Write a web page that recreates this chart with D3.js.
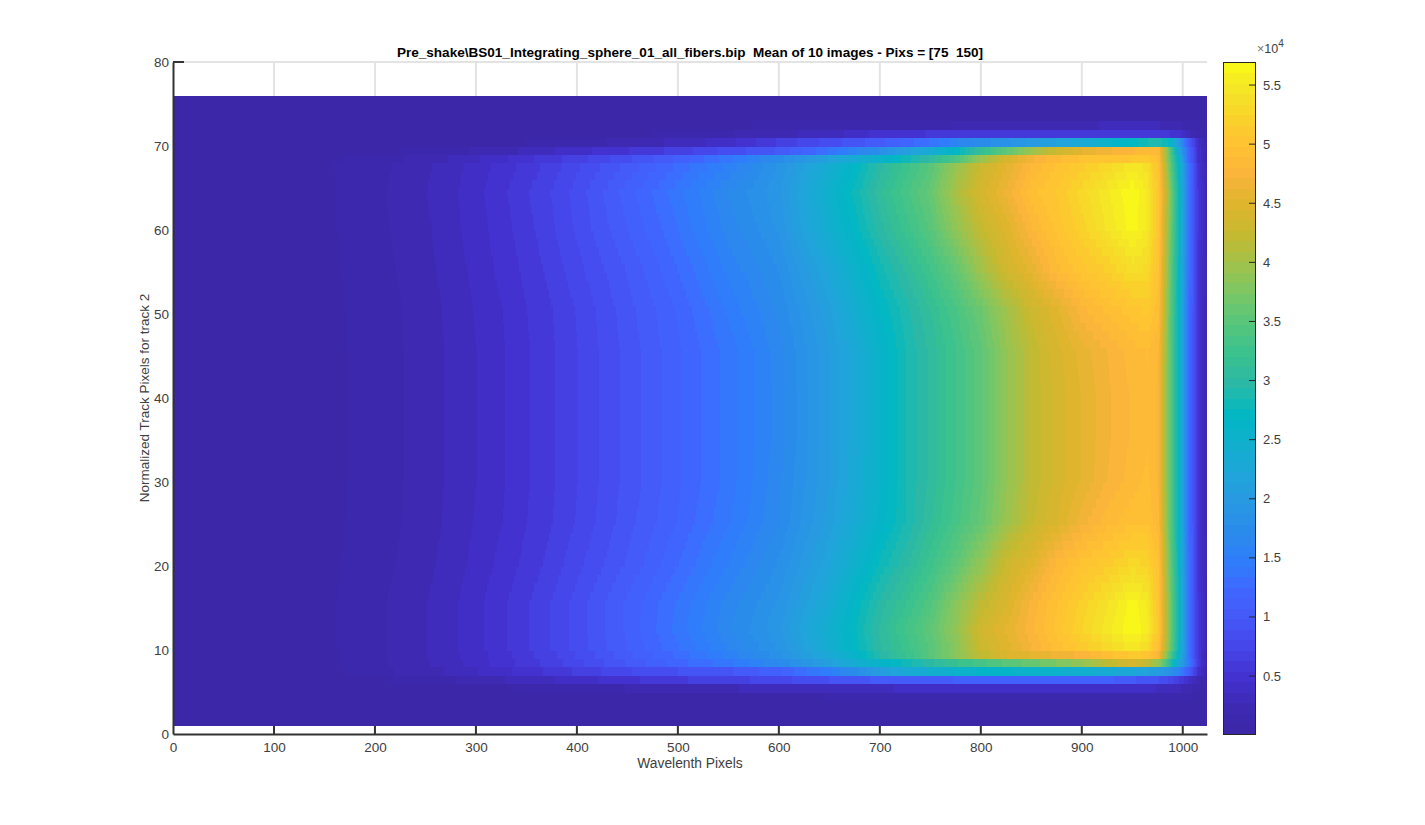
<!DOCTYPE html>
<html><head><meta charset="utf-8">
<script src="https://cdn.jsdelivr.net/npm/d3@7"></script>
<style>html,body{margin:0;padding:0;background:#fff}svg{display:block}text{font-family:"Liberation Sans",Arial,sans-serif}</style>
</head><body><svg id="c" width="1425" height="825"></svg>
<script>
const titleText = "Pre_shake\\BS01_Integrating_sphere_01_all_fibers.bip  Mean of 10 images - Pixs = [75  150]";
const xLabelText = "Wavelenth Pixels";
const yLabelText = "Normalized Track Pixels for track 2";
const xTicks = [0,100,200,300,400,500,600,700,800,900,1000];
const yTicks = [0,10,20,30,40,50,60,70,80];
const cbTicks = [0.5,1,1.5,2,2.5,3,3.5,4,4.5,5,5.5];
const cbLabels = ["0.5","1","1.5","2","2.5","3","3.5","4","4.5","5","5.5"];
const valueDomain = [0.01,5.695];
const paletteValues = [0.01,0.25,0.5,0.75,1,1.25,1.45,1.75,2,2.25,2.5,2.7,3,3.25,3.5,3.75,4,4.25,4.5,4.75,5,5.25,5.5,5.695];
const paletteColors = ["#3a26a4","#3e29b4","#4331d0","#4546ea","#4558f8","#3f68ff","#2f7cfb","#2a8cea","#279ae2","#1ea7d8","#0fb0cc","#00b8c4","#2db9a4","#3cc28c","#58c67c","#7cc764","#a2c24a","#c7b92f","#dfb52e","#fbb43a","#ffc232","#f9d42a","#f4e826","#f9fb15"];
const wavelengths = [0,160,175,225,265,295,325,350,375,400,450,500,550,600,650,675,700,725,750,775,800,825,850,875,900,925,950,965,975,985,995,1005,1015,1023];
const tracks = [1,3,4,5,6,7,8,9,10,12,15,20,25,30,35,40,45,50,55,60,64,67,68,69,70,71,72,73,75];
const trackValues = [
[.05,.05,.05,.05,.05,.05,.05,.05,.05,.05,.05,.05,.05,.05,.05,.05,.05,.05,.05,.05,.05,.05,.05,.05,.05,.05,.05,.05,.05,.05,.05,.05,.05,.05],
[.05,.05,.05,.05,.05,.05,.05,.05,.05,.05,.05,.05,.05,.05,.05,.06,.06,.06,.07,.07,.07,.07,.07,.07,.07,.07,.07,.07,.07,.07,.07,.06,.05,.05],
[.05,.05,.05,.05,.05,.05,.05,.05,.06,.06,.07,.08,.08,.09,.1,.11,.11,.12,.14,.15,.16,.16,.17,.17,.17,.17,.16,.15,.15,.14,.13,.11,.08,.06],
[.05,.05,.05,.05,.06,.07,.09,.11,.13,.15,.19,.23,.27,.3,.33,.35,.36,.37,.38,.39,.4,.4,.41,.42,.42,.41,.4,.38,.36,.34,.3,.22,.12,.06],
[.05,.06,.06,.11,.17,.21,.27,.32,.36,.41,.52,.62,.68,.78,.9,.97,1,1.02,1.05,1.08,1.1,1.12,1.15,1.15,1.15,1.1,1,.95,.9,.8,.65,.45,.22,.08],
[.06,.08,.11,.2,.27,.35,.42,.5,.57,.65,.8,.9,.97,1.15,1.5,1.75,2.05,2.3,2.42,2.52,2.6,2.6,2.55,2.5,2.45,2.35,2.25,2.15,2.05,1.9,1.6,1.1,.45,.12],
[.06,.09,.12,.21,.3,.39,.5,.58,.68,.78,1,1.22,1.4,1.7,2.1,2.4,2.6,2.8,3,3.2,3.35,3.5,3.6,3.75,3.9,4.2,4.4,4.2,3.9,3.2,2.3,1.5,.6,.18],
[.06,.09,.125,.21,.31,.4,.5,.6,.7,.82,1.05,1.28,1.55,1.85,2.3,2.6,2.95,3.2,3.5,3.85,4.2,4.45,4.55,4.65,4.75,4.95,5.1,5.05,4.75,3.6,2.6,1.4,.55,.18],
[.05,.095,.13,.21,.31,.41,.52,.62,.73,.85,1.08,1.34,1.62,1.9,2.4,2.72,3.02,3.25,3.5,3.85,4.3,4.5,4.72,4.95,5.12,5.3,5.5,5.35,4.95,3.85,2.75,1.4,.55,.2],
[.05,.095,.13,.21,.31,.41,.52,.62,.73,.85,1.1,1.38,1.68,1.95,2.45,2.75,3.05,3.3,3.55,3.9,4.35,4.55,4.78,5.02,5.25,5.48,5.69,5.55,5.1,3.9,2.8,1.4,.55,.2],
[.05,.095,.13,.21,.31,.41,.52,.62,.73,.85,1.1,1.36,1.65,1.9,2.35,2.7,2.98,3.2,3.45,3.85,4.2,4.45,4.75,4.98,5.2,5.42,5.66,5.5,5.05,3.9,2.8,1.4,.55,.2],
[.05,.09,.115,.195,.29,.38,.48,.57,.67,.78,1,1.25,1.52,1.8,2.2,2.5,2.78,3,3.25,3.55,3.9,4.3,4.5,4.82,5,5.12,5.28,5.22,4.98,3.8,2.75,1.35,.52,.2],
[.05,.082,.108,.185,.275,.36,.45,.54,.63,.73,.95,1.17,1.42,1.7,2.1,2.35,2.62,2.85,3.1,3.35,3.6,3.95,4.25,4.45,4.68,4.85,4.95,4.98,4.82,3.7,2.7,1.3,.5,.2],
[.05,.08,.105,.18,.27,.35,.44,.53,.62,.72,.93,1.15,1.38,1.68,2.05,2.32,2.58,2.85,3.05,3.3,3.55,3.9,4.2,4.4,4.55,4.72,4.85,4.92,4.78,3.7,2.7,1.3,.5,.2],
[.05,.08,.105,.18,.27,.35,.44,.53,.62,.72,.93,1.15,1.38,1.65,2.05,2.3,2.58,2.85,3.05,3.3,3.55,3.9,4.2,4.4,4.55,4.7,4.82,4.88,4.78,3.7,2.7,1.3,.5,.2],
[.05,.08,.105,.18,.27,.35,.44,.53,.62,.72,.93,1.15,1.38,1.65,2.05,2.3,2.58,2.85,3.05,3.3,3.55,3.9,4.2,4.4,4.55,4.7,4.82,4.88,4.78,3.7,2.7,1.3,.5,.2],
[.05,.08,.105,.18,.27,.35,.44,.53,.62,.72,.93,1.15,1.38,1.66,2.05,2.3,2.58,2.85,3.05,3.3,3.55,3.9,4.2,4.42,4.58,4.72,4.85,4.9,4.8,3.7,2.7,1.3,.5,.2],
[.05,.082,.108,.185,.275,.36,.45,.54,.63,.73,.95,1.18,1.45,1.72,2.12,2.4,2.68,2.9,3.12,3.38,3.65,4,4.3,4.52,4.78,4.92,5.03,5.1,4.92,3.75,2.7,1.3,.5,.2],
[.05,.09,.115,.195,.29,.38,.48,.57,.67,.78,1,1.26,1.55,1.8,2.25,2.55,2.82,3.05,3.3,3.6,4,4.35,4.58,4.88,5.05,5.18,5.38,5.32,5,3.8,2.75,1.35,.52,.2],
[.05,.095,.125,.205,.3,.4,.5,.6,.71,.83,1.08,1.35,1.65,1.9,2.45,2.72,3,3.25,3.5,3.9,4.25,4.5,4.8,5.02,5.22,5.45,5.66,5.5,5.05,3.9,2.8,1.4,.55,.2],
[.05,.095,.13,.21,.31,.41,.52,.62,.73,.85,1.12,1.4,1.7,1.95,2.5,2.8,3.1,3.35,3.6,4.05,4.4,4.65,4.95,5.08,5.3,5.5,5.69,5.5,5.05,4,2.8,1.4,.55,.2],
[.05,.1,.125,.2,.3,.39,.49,.58,.68,.8,1.02,1.28,1.55,1.9,2.4,2.7,3,3.25,3.5,3.95,4.3,4.55,4.82,5,5.15,5.3,5.5,5.4,5,3.8,2.7,1.35,.52,.2],
[.05,.09,.11,.18,.26,.34,.43,.52,.6,.68,.88,1.1,1.4,1.75,2.15,2.38,2.55,2.8,3.05,3.4,3.95,4.4,4.7,4.88,5,5.02,5.08,5.12,4.95,3.7,2.6,1.2,.45,.15],
[.05,.06,.07,.1,.15,.19,.25,.29,.36,.42,.54,.67,.85,1,1.35,1.6,1.8,2.08,2.35,2.7,3.15,3.55,3.95,4.3,4.55,4.7,4.8,4.85,4.85,3.7,2.3,1.2,.45,.12],
[.05,.05,.05,.06,.06,.07,.08,.1,.12,.14,.22,.3,.42,.65,.85,.95,1.05,1.2,1.35,1.6,1.75,1.85,2,2.15,2.3,2.55,2.72,2.85,2.9,2.75,2,1.05,.4,.12],
[.05,.05,.05,.05,.05,.05,.05,.06,.07,.07,.09,.11,.18,.25,.32,.4,.5,.52,.55,.55,.56,.57,.58,.58,.58,.58,.57,.56,.56,.55,.5,.3,.15,.08],
[.05,.05,.05,.05,.05,.05,.05,.05,.05,.05,.06,.08,.09,.11,.15,.16,.17,.18,.18,.19,.2,.2,.2,.22,.27,.28,.28,.28,.28,.26,.2,.16,.1,.06],
[.05,.05,.05,.05,.05,.05,.05,.05,.05,.05,.05,.05,.05,.05,.06,.07,.07,.08,.08,.08,.08,.08,.08,.08,.08,.08,.08,.08,.08,.08,.07,.06,.05,.05],
[.05,.05,.05,.05,.05,.05,.05,.05,.05,.05,.05,.05,.05,.05,.05,.05,.05,.05,.05,.05,.05,.05,.05,.05,.05,.05,.05,.05,.05,.05,.05,.05,.05,.05]
];

const svg = d3.select("#c");
const x = d3.scaleLinear().domain([0,1024]).range([173,1207]);
const y = d3.scaleLinear().domain([0,80]).range([734,62]);
const cb = d3.scaleLinear().domain(valueDomain).range([734,62]);
const ramp = d3.scaleLinear().domain(paletteValues).range(paletteColors).clamp(true);
const levels = d3.range(64).map(i => ramp(valueDomain[0] + (i+0.5)*(valueDomain[1]-valueDomain[0])/64));
const color = d3.scaleQuantize().domain(valueDomain).range(levels);

// grid
const grid = svg.append("g").attr("stroke","#e3e3e3").attr("stroke-width",2);
grid.selectAll("line.v").data(xTicks.slice(1)).join("line").attr("x1",x).attr("x2",x).attr("y1",y(0)).attr("y2",y(80));
grid.append("line").attr("x1",x(0)).attr("x2",x(1024)).attr("y1",y(80)).attr("y2",y(80));

// image: one band per track pixel, runs of equal colour merged
const rowScales = trackValues.map(r => d3.scaleLinear().domain(wavelengths).range(r));
const trackPos = d3.scaleLinear().domain(tracks).range(d3.range(tracks.length));
const img = svg.append("g").attr("shape-rendering","crispEdges");
const runs = [];
for (let t = 1; t <= 75; t++) {
  const p = trackPos(t), i0 = Math.min(Math.floor(p), tracks.length-2), f = p - i0;
  let start = 0, cur = null;
  for (let w = 0; w <= 1024; w++) {
    const c = w < 1024 ? color(rowScales[i0](w)*(1-f) + rowScales[i0+1](w)*f) : null;
    if (c !== cur) { if (cur) runs.push({t, a:start, b:w, c:cur}); start = w; cur = c; }
  }
}
img.selectAll("rect").data(runs).join("rect")
  .attr("x", d => x(d.a)).attr("width", d => x(d.b)-x(d.a)+(d.b<1024?0.5:0))
  .attr("y", d => y(d.t+1)).attr("height", d => y(d.t)-y(d.t+1)+0.5)
  .attr("fill", d => d.c);

// axes
const ink = "#333333", txt = "#404040";
const xAxis = svg.append("g").attr("transform","translate(0,734)")
  .call(d3.axisBottom(x).tickValues(xTicks).tickFormat(d3.format("d")).tickSize(0).tickPadding(8));
const yAxis = svg.append("g").attr("transform","translate(173,0)")
  .call(d3.axisLeft(y).tickValues(yTicks).tickFormat(d3.format("d")).tickSize(0).tickPadding(4));
[xAxis,yAxis].forEach(g => {
  g.select(".domain").attr("stroke",ink).attr("stroke-width",2);
  g.selectAll("text").attr("fill",txt).style("font-size","13.5px").style("font-family",'"Liberation Sans"');
});
svg.append("g").selectAll("line").data(xTicks.slice(1)).join("line")
  .attr("x1",x).attr("x2",x).attr("y1",726).attr("y2",734).attr("stroke",ink).attr("stroke-width",2);
svg.append("line").attr("x1",173).attr("x2",184).attr("y1",y(80)).attr("y2",y(80)).attr("stroke",ink).attr("stroke-width",2);

// titles
svg.append("text").attr("x",690).attr("y",57).attr("text-anchor","middle").attr("font-weight","bold").attr("font-size",13.55).attr("xml:space","preserve").style("white-space","pre").attr("fill","#000").text(titleText);
svg.append("text").attr("x",690).attr("y",767.5).attr("text-anchor","middle").attr("font-size",13.8).attr("fill",txt).text(xLabelText);
svg.append("text").attr("transform","translate(149,398) rotate(-90)").attr("text-anchor","middle").attr("font-size",13.5).attr("fill",txt).text(yLabelText);

// colorbar
const cbg = svg.append("g");
cbg.append("g").attr("shape-rendering","crispEdges").selectAll("rect").data(levels).join("rect")
  .attr("x",1223).attr("width",32)
  .attr("y",(d,i)=>cb(valueDomain[0]+(i+1)*(valueDomain[1]-valueDomain[0])/64))
  .attr("height",672/64+0.5).attr("fill",d=>d);
cbg.append("rect").attr("x",1223.5).attr("y",62.5).attr("width",32).attr("height",672).attr("fill","none").attr("stroke","#262626");
cbg.selectAll("line").data(cbTicks).join("line").attr("x1",1249).attr("x2",1255).attr("y1",cb).attr("y2",cb).attr("stroke","#262626");
cbg.selectAll("text.l").data(cbTicks).join("text").attr("x",1263).attr("y",d=>cb(d)+4.5).attr("font-size",13).attr("fill",txt).text((d,i)=>cbLabels[i]);
const e = svg.append("text").attr("x",1257).attr("y",53).attr("font-size",12.5).attr("fill",txt);
e.append("tspan").attr("fill","#777").text("×");
e.append("tspan").text("10");
e.append("tspan").attr("dy",-6).attr("font-size",10).text("4");
</script></body></html>
